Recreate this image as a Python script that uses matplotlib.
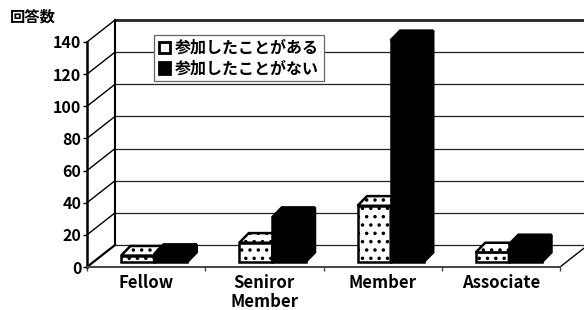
import matplotlib
matplotlib.use('Agg')
import matplotlib.pyplot as plt
from matplotlib.patches import Polygon, Patch

plt.rcParams['font.family'] = ['Noto Sans CJK JP', 'DejaVu Sans']
plt.rcParams['hatch.linewidth'] = 1.3

categories = ['Fellow', 'Seniror\nMember', 'Member', 'Associate']
participated = [4, 12, 35, 6]
not_participated = [5, 28, 138, 11]
series_names = ['参加したことがある', '参加したことがない']
yticks = [0, 20, 40, 60, 80, 100, 120, 140]

# oblique depth of the floor / back wall and of the bars (data units)
wall_dx, wall_dy = 0.237, 13.7
bar_dx, bar_dy = 0.08, 6.0
bar_off_x, bar_off_y = 0.068, 3.1
w = 0.28

fig = plt.figure(figsize=(5.84, 3.10), dpi=100)
ax = fig.add_axes([87/584, 43/310, 473/584, 225/310])
ax.set_xlim(0, 4)
ax.set_ylim(0, 140)

for s in ['top', 'right']:
    ax.spines[s].set_visible(False)
ax.spines['left'].set_linewidth(1.8)
ax.spines['bottom'].set_linewidth(1.4)
ax.spines['bottom'].set_color('#444444')

ax.set_yticks(yticks)
ax.set_yticklabels([str(t) for t in yticks], fontsize=11.5, fontweight='bold')
ax.tick_params(axis='y', length=3, width=1, pad=1)
ax.set_xticks(range(len(categories) + 1))
ax.set_xticklabels([])
ax.tick_params(axis='x', which='major', length=3, width=1, color='#444444')
ax.set_xticks([i + 0.5 for i in range(len(categories))], minor=True)
ax.set_xticklabels(categories, minor=True, fontsize=12, fontweight='bold',
                   linespacing=1.1)
ax.tick_params(axis='x', which='minor', length=0, pad=5)

# back wall and left wall
n = len(categories)
for g in yticks:
    ax.plot([wall_dx, n + wall_dx], [g + wall_dy, g + wall_dy], color='#222222',
            lw=2.0 if g == yticks[-1] else 0.9, clip_on=False, zorder=1)
    ax.plot([0, wall_dx], [g, g + wall_dy], color='black', lw=1.0 if g else 1.6,
            clip_on=False, zorder=1)
ax.plot([wall_dx, wall_dx], [wall_dy, yticks[-1] + wall_dy], color='black', lw=1.5,
        clip_on=False, zorder=1)
ax.plot([n, n + wall_dx], [0, wall_dy], color='black', lw=1.0, clip_on=False, zorder=1)

# bars
for i in range(n):
    for s, vals in enumerate([participated, not_participated]):
        v = vals[i]
        x0 = i + 0.5 - w + s * w + bar_off_x
        y0 = bar_off_y
        fc = 'white' if s == 0 else 'black'
        hatch = '..' if s == 0 else None
        ax.bar(x0, v, width=w, bottom=y0, align='edge', facecolor=fc,
               edgecolor='black', linewidth=1.8, hatch=hatch, clip_on=False, zorder=3)
        top = [(x0, y0 + v), (x0 + w, y0 + v), (x0 + w + bar_dx, y0 + v + bar_dy),
               (x0 + bar_dx, y0 + v + bar_dy)]
        side = [(x0 + w, y0), (x0 + w + bar_dx, y0 + bar_dy),
                (x0 + w + bar_dx, y0 + v + bar_dy), (x0 + w, y0 + v)]
        for poly in (top, side):
            ax.add_patch(Polygon(poly, closed=True, facecolor=fc, edgecolor='black',
                                 linewidth=1.8, hatch=hatch, clip_on=False, zorder=3))

handles = [Patch(facecolor='white', edgecolor='black', linewidth=2.0),
           Patch(facecolor='black', edgecolor='black', linewidth=2.0)]
leg = ax.legend(handles, series_names, loc='upper left', bbox_to_anchor=(0.142, 1.031),
                borderaxespad=0, fancybox=False, framealpha=1, edgecolor='#666666',
                handlelength=0.7, handleheight=0.7, handletextpad=0.3,
                labelspacing=0.3, borderpad=0.3,
                prop={'size': 11.5, 'weight': 'bold'})
leg.get_frame().set_linewidth(0.9)
leg.set_zorder(6)

fig.text(10/584, 1 - 17/310, '回答数', fontsize=11, fontweight='bold', va='center',
         ha='left')

fig.savefig('out.png', dpi=100)
